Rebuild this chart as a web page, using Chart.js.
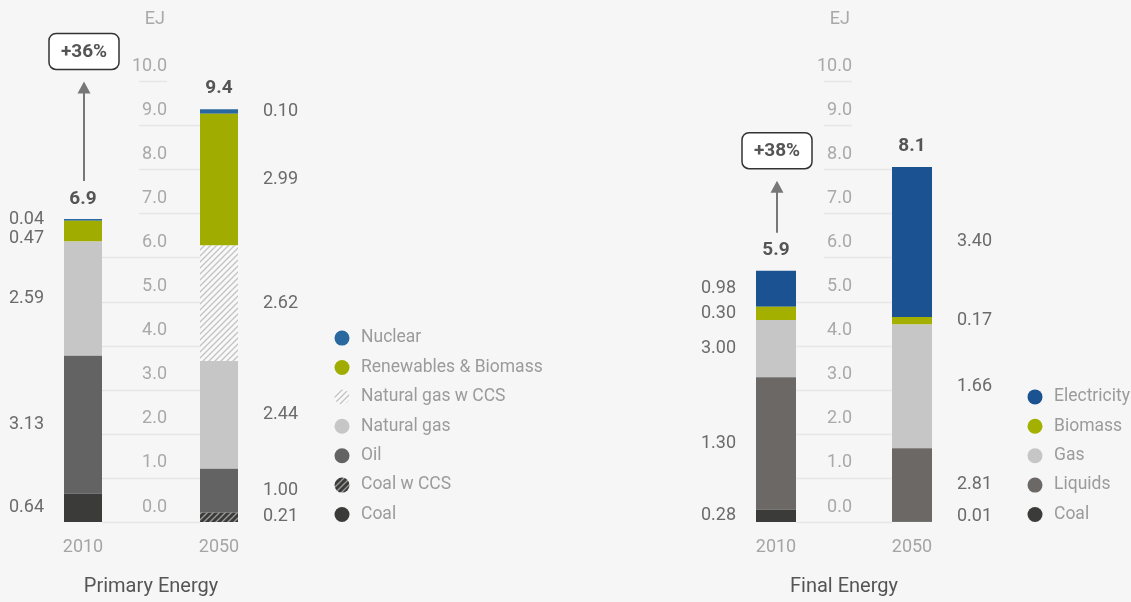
<!DOCTYPE html>
<html>
<head>
<meta charset="utf-8">
<script src="https://cdn.jsdelivr.net/npm/chart.js@4.4.1/dist/chart.umd.min.js"></script>
<style>
  html, body { margin: 0; padding: 0; background: #f6f6f6; }
  #wrap { position: relative; width: 1131px; height: 602px; overflow: hidden; }
  canvas { position: absolute; top: 0; }
  #primaryChart { left: 0; }
  #finalChart { left: 565px; }
</style>
</head>
<body>
<div id="wrap">
  <canvas id="primaryChart" width="565" height="602"></canvas>
  <canvas id="finalChart" width="566" height="602"></canvas>
</div>
<script>
// categories: middle slot holds the EJ axis
const years = ['2010', '', '2050'];
const yTicks = [0, 1, 2, 3, 4, 5, 6, 7, 8, 9, 10];

// Primary energy (EJ), stack order bottom -> top
const pCoal       = [0.64, null, 0];
const pCoalCCS    = [0, null, 0.21];
const pOil        = [3.13, null, 1.00];
const pGas        = [2.59, null, 2.44];
const pGasCCS     = [0, null, 2.62];
const pRenewables = [0.47, null, 2.99];
const pNuclear    = [0.04, null, 0.10];
// printed labels, same order
const pLabels2010 = ['0.64', '', '3.13', '2.59', '', '0.47', '0.04'];
const pLabels2050 = ['', '0.21', '1.00', '2.44', '2.62', '2.99', '0.10'];
const pTotals = ['6.9', '9.4'];

// Final energy (EJ)
const fCoal        = [0.28, null, 0.01];
const fLiquids     = [3.00, null, 1.66];
const fGas         = [1.30, null, 2.81];
const fBiomass     = [0.30, null, 0.17];
const fElectricity = [0.82, null, 3.40];
const fLabels2010 = ['0.28', '1.30', '3.00', '0.30', '0.98'];
const fLabels2050 = ['0.01', '2.81', '1.66', '0.17', '3.40'];
const fTotals = ['5.9', '8.1'];

const growth = ['+36%', '+38%'];

const FONT = 'Roboto, "Noto Sans", sans-serif';

function makeHatch(bg, line) {
    const c = document.createElement('canvas');
    c.width = 6; c.height = 6;
    const g = c.getContext('2d');
    g.fillStyle = bg;
    g.fillRect(0, 0, 6, 6);
    g.strokeStyle = line;
    g.lineWidth = 1.4;
    g.beginPath();
    g.moveTo(0, 6); g.lineTo(6, 0);
    g.moveTo(-1, 1); g.lineTo(1, -1);
    g.moveTo(5, 7); g.lineTo(7, 5);
    g.stroke();
    return g.createPattern(c, 'repeat');
}

// stack extents of one category
function barInfo(chart, idx) {
    let top = Infinity, x = 0, w = 0, base = 0, total = 0;
    chart.data.datasets.forEach((ds, i) => {
        const el = chart.getDatasetMeta(i).data[idx];
        const v = ds.data[idx];
        if (!el || v == null) return;
        total += v;
        x = el.x; w = el.width; base = Math.max(base, el.base);
        if (v > 0) top = Math.min(top, el.y);
    });
    return { x: x, left: x - w / 2, right: x + w / 2, top: top, base: base, total: total };
}

function segmentLabels(chart, idx, texts, xPos) {
    const ctx = chart.ctx;
    const items = [];
    chart.data.datasets.forEach((ds, i) => {
        const el = chart.getDatasetMeta(i).data[idx];
        if (!texts[i]) return;
        items.push({ text: texts[i], y: (el.y + el.base) / 2 });
    });
    items.sort((a, b) => a.y - b.y);
    for (let i = 1; i < items.length; i++) {
        items[i].y = Math.max(items[i].y, items[i - 1].y + 19);
    }
    const maxY = chart.scales.y.getPixelForValue(0) - 6;
    for (let i = items.length - 1; i >= 0; i--) {
        const lim = i === items.length - 1 ? maxY : items[i + 1].y - 19;
        items[i].y = Math.min(items[i].y, lim);
    }
    ctx.fillStyle = '#6b6b6b';
    ctx.font = '18px ' + FONT;
    ctx.textAlign = 'left';
    ctx.textBaseline = 'middle';
    items.forEach(it => ctx.fillText(it.text, xPos, it.y));
}

function roundRect(ctx, x, y, w, h, r) {
    ctx.beginPath();
    ctx.moveTo(x + r, y);
    ctx.arcTo(x + w, y, x + w, y + h, r);
    ctx.arcTo(x + w, y + h, x, y + h, r);
    ctx.arcTo(x, y + h, x, y, r);
    ctx.arcTo(x, y, x + w, y, r);
    ctx.closePath();
}

const decor = {
    id: 'decor',
    beforeDatasetsDraw(chart, args, opts) {
        const ctx = chart.ctx, y = chart.scales.y;
        const b1 = barInfo(chart, 0), b2 = barInfo(chart, 2);
        ctx.save();
        ctx.strokeStyle = '#e6e6e6';
        ctx.lineWidth = 1.5;
        y.ticks.forEach(t => {
            const py = Math.round(y.getPixelForValue(t.value)) + 0.5;
            const x0 = t.value <= b1.total ? b1.right : opts.tickRight - 28;
            const x1 = t.value <= b2.total ? b2.left : opts.tickRight;
            ctx.beginPath();
            ctx.moveTo(x0, py);
            ctx.lineTo(x1, py);
            ctx.stroke();
        });
        ctx.restore();
    },
    afterDatasetsDraw(chart, args, opts) {
        const ctx = chart.ctx, x = chart.scales.x, y = chart.scales.y;
        const b1 = barInfo(chart, 0), b2 = barInfo(chart, 2);
        ctx.save();

        // axis tick labels, sitting above their grid line
        ctx.font = '18px ' + FONT;
        ctx.fillStyle = '#a9a9a9';
        ctx.textAlign = 'right';
        ctx.textBaseline = 'middle';
        y.ticks.forEach(t => {
            ctx.fillText(t.value.toFixed(1), opts.tickRight, y.getPixelForValue(t.value) - 15);
        });
        ctx.fillText('EJ', opts.tickRight - 2, 19);

        // year labels
        ctx.textAlign = 'center';
        ctx.fillStyle = '#a5a5a5';
        [0, 2].forEach(i => ctx.fillText(x.getLabelForValue(i), x.getPixelForValue(i), 547));

        // title
        ctx.fillStyle = '#555555';
        ctx.font = '20px ' + FONT;
        ctx.fillText(opts.title, x.getPixelForValue(1), 587);

        // segment values
        segmentLabels(chart, 0, opts.labels[0], b1.left - 55);
        segmentLabels(chart, 2, opts.labels[1], b2.right + 25);

        // totals
        ctx.font = 'bold 19px ' + FONT;
        ctx.fillStyle = '#555555';
        ctx.textAlign = 'center';
        ctx.fillText(opts.totals[0], b1.x, b1.top - 20);
        ctx.fillText(opts.totals[1], b2.x, b2.top - 21);

        // growth box + arrow
        const bx = b1.x + 1, by = y.getPixelForValue(opts.boxAt);
        const tip = by + 18 + 12, bottom = b1.top - 38;
        ctx.strokeStyle = '#777777';
        ctx.fillStyle = '#777777';
        ctx.lineWidth = 2;
        ctx.beginPath();
        ctx.moveTo(bx, bottom);
        ctx.lineTo(bx, tip + 10);
        ctx.stroke();
        ctx.beginPath();
        ctx.moveTo(bx, tip);
        ctx.lineTo(bx - 6.5, tip + 12);
        ctx.lineTo(bx + 6.5, tip + 12);
        ctx.closePath();
        ctx.fill();

        roundRect(ctx, bx - 35, by - 18, 70, 36, 7);
        ctx.fillStyle = '#ffffff';
        ctx.fill();
        ctx.strokeStyle = '#333333';
        ctx.lineWidth = 1.5;
        ctx.stroke();
        ctx.fillStyle = '#555555';
        ctx.font = 'bold 19px ' + FONT;
        ctx.fillText(opts.growth, bx, by + 1);

        // legend, top item = top of stack
        const dsets = chart.data.datasets;
        const lx = chart.chartArea.right + 89;
        ctx.font = '17.5px ' + FONT;
        ctx.textAlign = 'left';
        for (let k = 0; k < dsets.length; k++) {
            const ds = dsets[k];
            const ly = y.getPixelForValue(0) - 7.5 - k * 29.4;
            ctx.beginPath();
            ctx.arc(lx, ly, 7.5, 0, Math.PI * 2);
            ctx.fillStyle = ds.backgroundColor;
            ctx.fill();
            ctx.fillStyle = '#9b9b9b';
            ctx.fillText(ds.label, lx + 19, ly);
        }
        ctx.restore();
    }
};

function ds(label, data, color) {
    return { label: label, data: data, backgroundColor: color, stack: 's' };
}

function energyChart(id, datasets, barPct, padLeft, padRight, extra) {
    return new Chart(document.getElementById(id), {
        type: 'bar',
        data: { labels: years, datasets: datasets },
        options: {
            responsive: false,
            animation: false,
            barPercentage: barPct,
            categoryPercentage: 1,
            layout: { padding: { left: padLeft, right: padRight, top: 81, bottom: 80 } },
            scales: {
                x: { display: false, stacked: true },
                y: {
                    display: false, stacked: true, min: 0, max: 10,
                    afterBuildTicks: axis => { axis.ticks = yTicks.map(v => ({ value: v })); }
                }
            },
            plugins: {
                legend: { display: false },
                tooltip: { enabled: false },
                decor: extra
            }
        },
        plugins: [decor]
    });
}

const gasHatch = makeHatch('#f9f9f9', '#c4c4c4');
const coalHatch = makeHatch('#3b3b3a', '#9a9a9a');

energyChart('primaryChart', [
    ds('Coal', pCoal, '#3b3b39'),
    ds('Coal w CCS', pCoalCCS, coalHatch),
    ds('Oil', pOil, '#636363'),
    ds('Natural gas', pGas, '#c6c6c6'),
    ds('Natural gas w CCS', pGasCCS, gasHatch),
    ds('Renewables & Biomass', pRenewables, '#a0ad00'),
    ds('Nuclear', pNuclear, '#2a69a0')
], 38 / 68, 49, 312, {
    title: 'Primary Energy', tickRight: 167, boxAt: 10.67,
    labels: [pLabels2010, pLabels2050], totals: pTotals, growth: growth[0]
});

energyChart('finalChart', [
    ds('Coal', fCoal, '#3b3b39'),
    ds('Liquids', fLiquids, '#6b6866'),
    ds('Gas', fGas, '#c6c6c6'),
    ds('Biomass', fBiomass, '#a3b000'),
    ds('Electricity', fElectricity, '#1b5291')
], 40 / 68, 177, 185, {
    title: 'Final Energy', tickRight: 287, boxAt: 8.42,
    labels: [fLabels2010, fLabels2050], totals: fTotals, growth: growth[1]
});
</script>
</body>
</html>
